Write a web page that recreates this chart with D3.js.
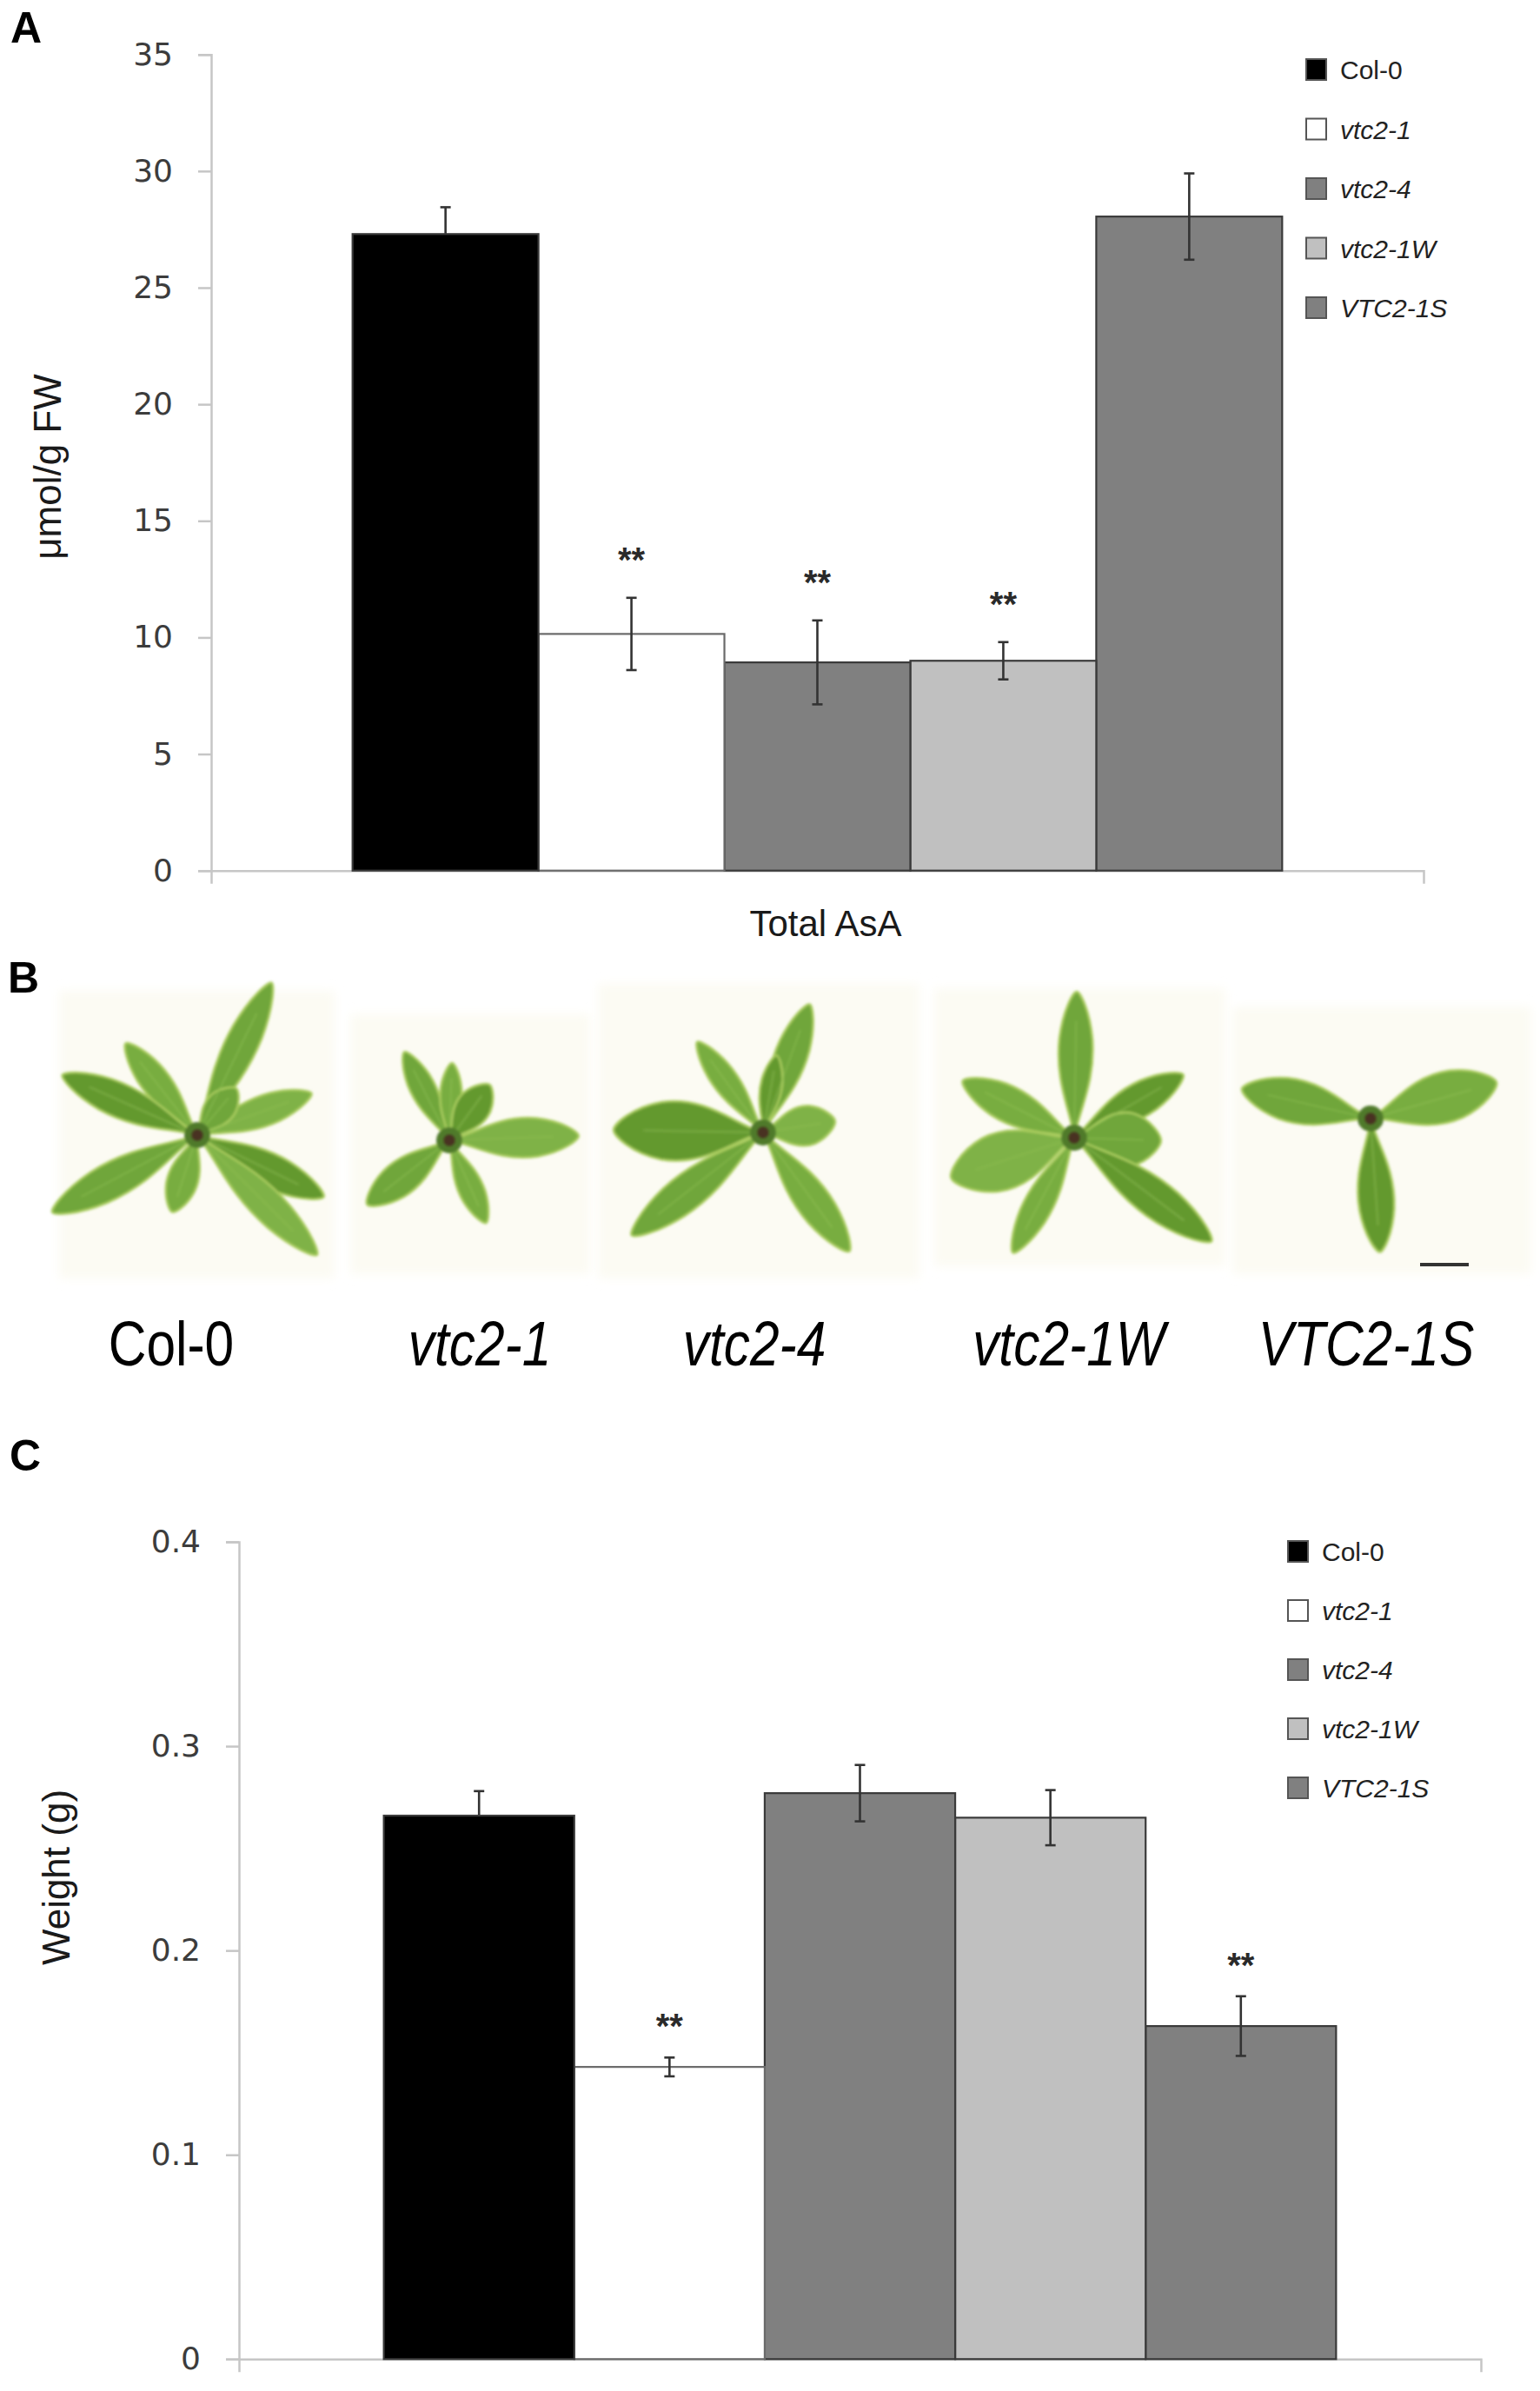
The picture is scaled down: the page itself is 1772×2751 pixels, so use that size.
<!DOCTYPE html>
<html>
<head>
<meta charset="utf-8">
<script src="https://cdn.jsdelivr.net/npm/d3@7"></script>
<style>
  html, body { margin: 0; padding: 0; background: #ffffff; }
  svg { display: block; }
</style>
</head>
<body>
<svg id="fig" width="1772" height="2751"></svg>
<script>
// ---------------- DATA ----------------
const genotypes = ["Col-0", "vtc2-1", "vtc2-4", "vtc2-1W", "VTC2-1S"];
const italicGenotype = [false, true, true, true, true];
const barColors = ["#000000", "#ffffff", "#808080", "#c0c0c0", "#808080"];

// Panel A: total ascorbate (µmol/g FW)
const asaCategory = ["Total AsA"];
const asaMean = [27.3, 10.15, 8.93, 9.0, 28.05];
const asaErr  = [1.15, 1.55, 1.8, 0.8, 1.85];
const asaSig  = ["", "**", "**", "**", ""];
const asaTicks = [0, 5, 10, 15, 20, 25, 30, 35];

// Panel C: fresh weight (g)
const weightCategory = [""];
const weightMean = [0.266, 0.143, 0.277, 0.265, 0.163];
const weightErr  = [0.012, 0.0046, 0.0138, 0.0135, 0.0146];
const weightSig  = ["", "**", "", "", "**"];
const weightTicks = [0, 0.1, 0.2, 0.3, 0.4];

// Panel B: rosette photos, drawn as stylised leaves [angle deg, length, width]
const plantLeaves = [
  [[26,195,36],[-38,134,32],[-66,170,38],[70,140,34],[-118,189,40],[198,93,34],[116,162,38],[135,195,36],[40,70,34]],
  [[-27,114,28],[2,89,24],[36,79,38],[88,149,44],[-128,120,38],[156,104,28]],
  [[20,157,36],[-36,129,28],[-89,172,66],[81,84,44],[-128,192,40],[144,169,38],[10,90,24]],
  [[1,168,38],[-63,144,40],[60,145,38],[-108,149,64],[92,100,60],[208,150,32],[127,198,42]],
  [[-77,152,48],[74,151,56],[176,154,40]]
];

// ---------------- DRAWING ----------------
const svg = d3.select("#fig");
const axisColor = "#c6c6c6";
const tickFont = "'DejaVu Sans', Verdana, sans-serif";
const helv = "'Liberation Sans', Arial, Helvetica, sans-serif";

function panelLetter(txt, x, y) {
  svg.append("text").attr("x", x).attr("y", y)
    .attr("font-family", helv).attr("font-weight", "bold")
    .attr("font-size", 50).attr("fill", "#000").text(txt);
}

function barPanel(cfg) {
  const g = svg.append("g");
  const y = d3.scaleLinear().domain(cfg.domain).range([cfg.y0, cfg.y1]);
  const x0 = d3.scaleBand().domain(cfg.category).range([cfg.xL, cfg.xR]).padding(0.132);
  const x1 = d3.scaleBand().domain(genotypes).range([0, x0.bandwidth()]).padding(0);

  // y axis
  const ya = g.append("g").attr("transform", `translate(${cfg.xL},0)`)
    .call(d3.axisLeft(y).tickValues(cfg.ticks).tickSize(15).tickSizeOuter(15)
      .tickPadding(29).tickFormat(cfg.fmt));
  ya.select(".domain").attr("stroke", axisColor).attr("stroke-width", 2.5);
  ya.selectAll(".tick line").attr("stroke", axisColor).attr("stroke-width", 2.5);
  ya.selectAll(".tick text").attr("font-family", tickFont).attr("font-size", 36)
    .attr("fill", "#3c3c3c");

  // x axis
  const xa = g.append("g").attr("transform", `translate(0,${cfg.y0})`)
    .call(d3.axisBottom(x0).tickValues([]).tickSizeOuter(15));
  xa.select(".domain").attr("stroke", axisColor).attr("stroke-width", 2.5);

  const rows = genotypes.map((gname, i) => ({
    name: gname, cat: cfg.category[0], v: cfg.mean[i], e: cfg.err[i], s: cfg.sig[i], c: barColors[i]
  }));

  const grp = g.append("g").attr("transform", `translate(${x0(cfg.category[0])},0)`);
  const cx = d => x1(d.name) + x1.bandwidth() / 2;
  const eb = grp.selectAll("g.err").data(rows).join("g").attr("class", "err")
    .attr("stroke", "#333").attr("stroke-width", 2.6);
  eb.append("line").attr("x1", cx).attr("x2", cx)
    .attr("y1", d => y(d.v + d.e)).attr("y2", d => y(d.v - d.e));
  eb.append("line").attr("x1", d => cx(d) - 6).attr("x2", d => cx(d) + 6)
    .attr("y1", d => y(d.v + d.e)).attr("y2", d => y(d.v + d.e));
  eb.append("line").attr("x1", d => cx(d) - 6).attr("x2", d => cx(d) + 6)
    .attr("y1", d => y(d.v - d.e)).attr("y2", d => y(d.v - d.e));
  // black bar hides lower whisker like the original; others draw bar first
  grp.selectAll("rect.bar").data(rows).join("rect").attr("class", "bar")
    .attr("x", d => x1(d.name)).attr("width", x1.bandwidth())
    .attr("y", d => y(d.v)).attr("height", d => y(0) - y(d.v))
    .attr("fill", d => d.c)
    .attr("stroke", d => d.c === "#ffffff" ? "#6a6a6a" : "#3a3a3a")
    .attr("stroke-width", 2.2);
  grp.selectAll("rect.bar").filter(d => d.c !== "#000000").lower();
  grp.selectAll("g.err").filter(d => d.c !== "#000000").raise();

  grp.selectAll("text.sig").data(rows.filter(d => d.s)).join("text").attr("class", "sig")
    .attr("x", cx).attr("y", d => y(d.v + d.e) - cfg.sigOff)
    .attr("text-anchor", "middle").attr("font-family", helv).attr("font-weight", "bold")
    .attr("font-size", 40).attr("fill", "#2a2a2a").text(d => d.s);

  // y title
  g.append("text").attr("transform", `translate(${cfg.ytx},${cfg.yty}) rotate(-90)`)
    .attr("text-anchor", "middle").attr("font-family", helv).attr("font-size", 44)
    .attr("fill", "#1a1a1a").text(cfg.ytitle);

  if (cfg.xtitle) {
    g.append("text").attr("x", cfg.xtx).attr("y", cfg.xty).attr("text-anchor", "middle")
      .attr("font-family", helv).attr("font-size", 42).attr("fill", "#1a1a1a").text(cfg.xtitle);
  }

  // legend
  const lg = g.append("g");
  const li = lg.selectAll("g").data(rows).join("g")
    .attr("transform", (d, i) => `translate(${cfg.legX},${cfg.legY + i * cfg.legStep})`);
  li.append("rect").attr("x", 0).attr("y", -12).attr("width", 23).attr("height", 24)
    .attr("fill", d => d.c).attr("stroke", "#555").attr("stroke-width", 2);
  li.append("text").attr("x", 39).attr("y", 11).attr("font-family", helv)
    .attr("font-size", 30).attr("fill", "#222")
    .attr("font-style", (d, i) => italicGenotype[i] ? "italic" : "normal")
    .text(d => d.name);
}

// ---- Panel A ----
panelLetter("A", 12, 49);
barPanel({
  domain: [0, 35], y0: 1001.7, y1: 62.7, xL: 243, xR: 1638,
  category: asaCategory, mean: asaMean, err: asaErr, sig: asaSig, ticks: asaTicks,
  fmt: d3.format("d"), sigOff: 30,
  ytitle: "μmol/g FW", ytx: 70, yty: 537,
  xtitle: "Total AsA", xtx: 950, xty: 1077,
  legX: 1503, legY: 80, legStep: 68.5
});

// ---- Panel B ----
panelLetter("B", 9, 1142);
const defs = svg.append("defs");
defs.append("filter").attr("id", "soft").attr("x", "-20%").attr("y", "-20%")
  .attr("width", "140%").attr("height", "140%")
  .append("feGaussianBlur").attr("stdDeviation", 1.6);
defs.append("filter").attr("id", "haze").attr("x", "-10%").attr("y", "-10%")
  .attr("width", "120%").attr("height", "120%")
  .append("feGaussianBlur").attr("stdDeviation", 6);

const plantCenters = [[227, 1306], [517, 1312], [878, 1303], [1236, 1309], [1577, 1287]];
const tiles = [[68, 1140, 317, 331], [403, 1167, 276, 299], [688, 1132, 370, 339], [1075, 1137, 335, 320], [1418, 1158, 344, 308]];
const labelX = [197, 552, 868, 1230, 1572];

const pb = svg.append("g");
pb.selectAll("rect.tile").data(tiles).join("rect").attr("class", "tile")
  .attr("x", d => d[0]).attr("y", d => d[1]).attr("width", d => d[2]).attr("height", d => d[3])
  .attr("fill", "#fcfbf3").attr("filter", "url(#haze)");

function leafPath(L, w) {
  return `M0,0 C${w*0.12},${-L*0.18} ${w*0.62},${-L*0.38} ${w*0.5},${-L*0.68} ` +
         `C${w*0.4},${-L*0.88} ${w*0.1},${-L} 0,${-L} ` +
         `C${-w*0.1},${-L} ${-w*0.4},${-L*0.88} ${-w*0.5},${-L*0.68} ` +
         `C${-w*0.62},${-L*0.38} ${-w*0.12},${-L*0.18} 0,0Z`;
}
const leafFills = ["#6fa63a", "#78ad3f", "#64992f", "#7fb246"];
plantLeaves.forEach((leaves, pi) => {
  const c = plantCenters[pi];
  const pg = pb.append("g").attr("transform", `translate(${c[0]},${c[1]})`).attr("filter", "url(#soft)");
  pg.selectAll("path").data(leaves).join("path")
    .attr("d", d => leafPath(d[1], d[2]))
    .attr("transform", d => `rotate(${d[0]})`)
    .attr("fill", (d, i) => leafFills[i % leafFills.length])
    .attr("stroke", "#a9cc5e").attr("stroke-width", 2.5);
  pg.selectAll("line.rib").data(leaves).join("line").attr("class", "rib")
    .attr("x1", 0).attr("y1", 0).attr("x2", 0).attr("y2", d => -d[1] * 0.8)
    .attr("transform", d => `rotate(${d[0]})`)
    .attr("stroke", "#8fbf55").attr("stroke-width", 2).attr("opacity", 0.5);
  pg.append("circle").attr("r", 15).attr("fill", "#4f7a2a");
  pg.append("circle").attr("r", 7).attr("fill", "#4a3320");
});
// scale bar
pb.append("line").attr("x1", 1634).attr("x2", 1690).attr("y1", 1455).attr("y2", 1455)
  .attr("stroke", "#333").attr("stroke-width", 4);

pb.selectAll("text.plab").data(genotypes).join("text").attr("class", "plab")
  .attr("transform", (d, i) => `translate(${labelX[i]},1571) scale(0.84,1)`)
  .attr("text-anchor", "middle")
  .attr("font-family", helv)
  .attr("font-size", 72).attr("fill", "#000")
  .attr("font-style", (d, i) => italicGenotype[i] ? "italic" : "normal")
  .text(d => d);

// ---- Panel C ----
panelLetter("C", 11, 1692);
barPanel({
  domain: [0, 0.4], y0: 2714.3, y1: 1774, xL: 275, xR: 1704,
  category: weightCategory, mean: weightMean, err: weightErr, sig: weightSig, ticks: weightTicks,
  fmt: d => d === 0 ? "0" : d3.format(".1f")(d), sigOff: 22,
  ytitle: "Weight (g)", ytx: 80, yty: 2160,
  xtitle: null,
  legX: 1482, legY: 1785, legStep: 68
});
</script>
</body>
</html>
